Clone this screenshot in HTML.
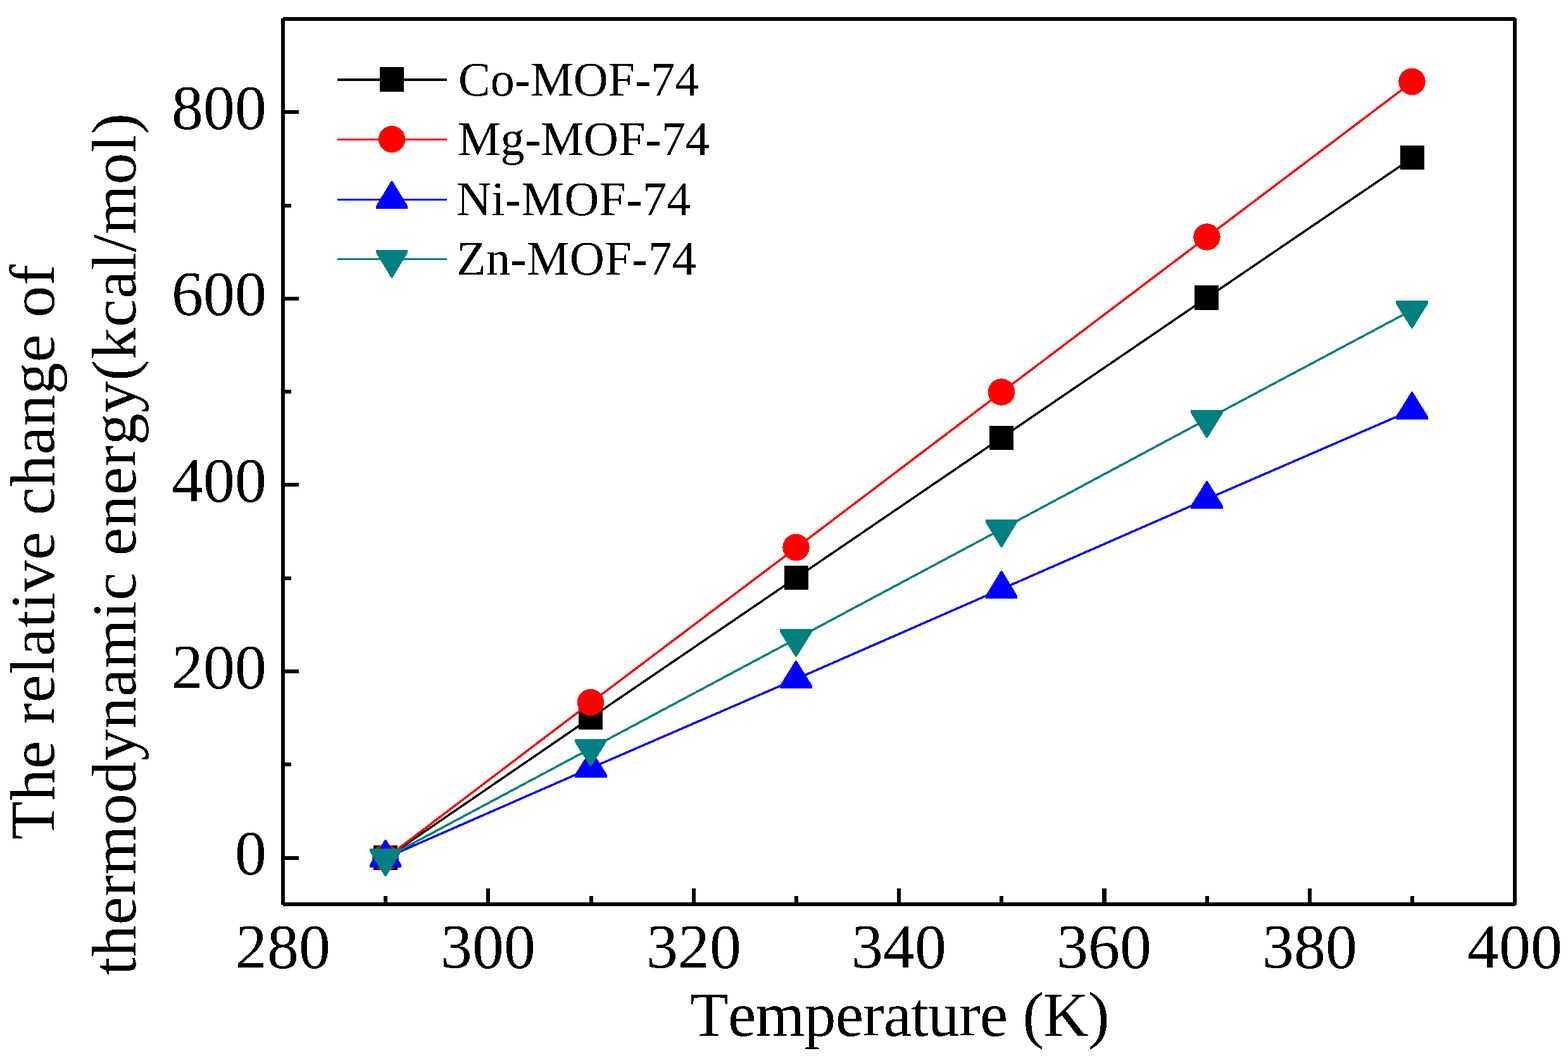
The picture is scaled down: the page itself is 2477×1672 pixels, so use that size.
<!DOCTYPE html>
<html lang="en"><head><meta charset="utf-8">
<title>Relative change of thermodynamic energy vs temperature for M-MOF-74</title>
<style>
html,body{margin:0;padding:0;background:#fff;}
body{width:2477px;height:1672px;overflow:hidden;}
svg{display:block;}
text{font-family:"Liberation Serif", "DejaVu Serif", serif;fill:#000;font-kerning:none;white-space:pre;}
.tick{font-size:100px;}
.ttl{font-size:100px;}
.leg{font-size:76px;}
</style></head><body>
<svg width="2477" height="1672" viewBox="0 0 2477 1672" role="img" aria-label="Line chart: relative change of thermodynamic energy versus temperature for Co-, Mg-, Ni- and Zn-MOF-74">
<rect x="0" y="0" width="2477" height="1672" fill="#ffffff"/>
<defs><filter id="crisp" filterUnits="userSpaceOnUse" x="0" y="0" width="2477" height="1672" color-interpolation-filters="sRGB"><feComponentTransfer><feFuncA type="discrete" tableValues="0 1"/></feComponentTransfer></filter></defs>
<g id="frame" fill="#000" shape-rendering="crispEdges">
<rect x="447" y="27" width="1947" height="6"/>
<rect x="447" y="1426" width="1947" height="6"/>
<rect x="444" y="29" width="6" height="1401"/>
<rect x="2390" y="29" width="6" height="1401"/>
<rect x="606" y="1416" width="6" height="13"/>
<rect x="768" y="1404" width="6" height="25"/>
<rect x="931" y="1416" width="6" height="13"/>
<rect x="1093" y="1404" width="6" height="25"/>
<rect x="1255" y="1416" width="6" height="13"/>
<rect x="1417" y="1404" width="6" height="25"/>
<rect x="1579" y="1416" width="6" height="13"/>
<rect x="1741" y="1404" width="7" height="25"/>
<rect x="1904" y="1416" width="6" height="13"/>
<rect x="2066" y="1404" width="6" height="25"/>
<rect x="2228" y="1416" width="6" height="13"/>
<rect x="447" y="1353" width="25" height="6"/>
<rect x="447" y="1205" width="13" height="6"/>
<rect x="447" y="1058" width="25" height="6"/>
<rect x="447" y="911" width="13" height="6"/>
<rect x="447" y="763" width="25" height="6"/>
<rect x="447" y="616" width="13" height="6"/>
<rect x="447" y="469" width="25" height="6"/>
<rect x="447" y="322" width="13" height="6"/>
<rect x="447" y="174" width="25" height="6"/>
</g>
<g id="xlabels" class="tick" text-anchor="middle" filter="url(#crisp)">
<text x="447" y="1529">280</text>
<text x="771" y="1529">300</text>
<text x="1096" y="1529">320</text>
<text x="1420" y="1529">340</text>
<text x="1744" y="1529">360</text>
<text x="2069" y="1529">380</text>
<text x="2393" y="1529">400</text>
</g>
<g id="ylabels" class="tick" text-anchor="end" filter="url(#crisp)">
<text x="421" y="1381">0</text>
<text x="421" y="1087">200</text>
<text x="421" y="792">400</text>
<text x="421" y="497">600</text>
<text x="421" y="203">800</text>
</g>
<g id="titles" filter="url(#crisp)">
<text class="ttl" x="1089.8" y="1637" style="letter-spacing:-0.85px">Temperature (K)</text>
<text class="ttl" transform="translate(85.3,1327.3) rotate(-90)" style="letter-spacing:0.6px">The relative change of</text>
<text class="ttl" transform="translate(213.8,1540.7) rotate(-90)" style="letter-spacing:0.714px">thermodynamic energy(kcal/mol)</text>
</g>
<g id="series" shape-rendering="crispEdges">
<g id="s-co">
<polyline fill="none" stroke="#000000" stroke-width="3.5" stroke-linejoin="round" points="609.50,1356.15 933.50,1134.15 1258.50,912.60 1582.50,691.60 1906.50,470.60 2231.50,249.30"/>
<g fill="#000000"><rect x="590" y="1336" width="38" height="39" rx="1.5"/><rect x="914" y="1114" width="38" height="39" rx="1.5"/><rect x="1239" y="894" width="38" height="38" rx="1.5"/><rect x="1563" y="673" width="38" height="38" rx="1.5"/><rect x="1887" y="451" width="38" height="39" rx="1.5"/><rect x="2212" y="230" width="38" height="38" rx="1.5"/></g>
</g>
<g id="s-mg">
<polyline fill="none" stroke="#ff0000" stroke-width="3.5" stroke-linejoin="round" points="609.50,1356.15 933.50,1110.15 1258.50,865.15 1582.50,619.65 1906.50,374.65 2231.50,129.15"/>
<g fill="#ff0000"><circle cx="609" cy="1355.5" r="21.2"/><circle cx="933" cy="1110" r="21.2"/><circle cx="1257.5" cy="865" r="21.2"/><circle cx="1582" cy="619.5" r="21.2"/><circle cx="1906.5" cy="374.5" r="21.2"/><circle cx="2230.5" cy="129" r="21.2"/></g>
</g>
<g id="s-ni">
<polyline fill="none" stroke="#0000ff" stroke-width="3.5" stroke-linejoin="round" points="609.50,1355.70 933.50,1213.70 1258.50,1072.70 1582.50,930.70 1906.50,788.70 2231.50,647.70"/>
<g fill="#0000ff"><polygon points="584.00,1371.00 584.00,1366.50 608.00,1327.00 610.00,1327.00 634.00,1366.50 634.00,1371.00"/><polygon points="908.00,1229.00 908.00,1224.50 932.50,1185.00 934.50,1185.00 959.00,1224.50 959.00,1229.00"/><polygon points="1232.00,1088.00 1232.00,1083.50 1256.50,1044.00 1258.50,1044.00 1283.00,1083.50 1283.00,1088.00"/><polygon points="1557.00,946.00 1557.00,941.50 1581.00,902.00 1583.00,902.00 1607.00,941.50 1607.00,946.00"/><polygon points="1881.00,804.00 1881.00,799.50 1905.50,760.00 1907.50,760.00 1932.00,799.50 1932.00,804.00"/><polygon points="2205.00,663.00 2205.00,658.50 2229.50,619.00 2231.50,619.00 2256.00,658.50 2256.00,663.00"/></g>
</g>
<g id="s-zn">
<polyline fill="none" stroke="#008080" stroke-width="3.5" stroke-linejoin="round" points="609.50,1355.60 933.50,1182.60 1258.50,1009.10 1582.50,836.10 1906.50,662.60 2231.50,489.60"/>
<g fill="#008080"><polygon points="584.00,1341.00 584.00,1345.50 608.00,1385.00 610.00,1385.00 634.00,1345.50 634.00,1341.00"/><polygon points="908.00,1168.00 908.00,1172.50 932.00,1211.00 934.00,1211.00 958.00,1172.50 958.00,1168.00"/><polygon points="1232.00,994.00 1232.00,998.50 1256.50,1038.00 1258.50,1038.00 1283.00,998.50 1283.00,994.00"/><polygon points="1557.00,821.00 1557.00,825.50 1581.00,865.00 1583.00,865.00 1607.00,825.50 1607.00,821.00"/><polygon points="1881.00,648.00 1881.00,652.50 1905.50,692.00 1907.50,692.00 1932.00,652.50 1932.00,648.00"/><polygon points="2205.00,475.00 2205.00,479.50 2229.50,519.00 2231.50,519.00 2256.00,479.50 2256.00,475.00"/></g>
</g>
</g>
<g id="legend">
<rect x="533" y="124" width="173" height="4" fill="#000000" shape-rendering="crispEdges"/>
<g fill="#000000" shape-rendering="crispEdges"><rect x="600" y="106" width="38" height="39" rx="1.5"/></g>
<text class="leg" filter="url(#crisp)" x="724.1" y="151" style="letter-spacing:0.025px">Co-MOF-74</text>
<rect x="533" y="219" width="173" height="3" fill="#ff0000" shape-rendering="crispEdges"/>
<g fill="#ff0000" shape-rendering="crispEdges"><circle cx="619" cy="220" r="21.2"/></g>
<text class="leg" filter="url(#crisp)" x="723.2" y="245" style="letter-spacing:0.087px">Mg-MOF-74</text>
<rect x="533" y="314" width="173" height="3" fill="#0000ff" shape-rendering="crispEdges"/>
<g fill="#0000ff" shape-rendering="crispEdges"><polygon points="594.00,330.00 594.00,325.50 618.00,286.00 620.00,286.00 644.00,325.50 644.00,330.00"/></g>
<text class="leg" filter="url(#crisp)" x="721.1" y="340" style="letter-spacing:0.362px">Ni-MOF-74</text>
<rect x="533" y="408" width="173" height="3" fill="#008080" shape-rendering="crispEdges"/>
<g fill="#008080" shape-rendering="crispEdges"><polygon points="594.00,395.00 594.00,399.50 618.00,439.00 620.00,439.00 644.00,399.50 644.00,395.00"/></g>
<text class="leg" filter="url(#crisp)" x="721.2" y="434" style="letter-spacing:0.362px">Zn-MOF-74</text>
</g>
</svg>
</body></html>
